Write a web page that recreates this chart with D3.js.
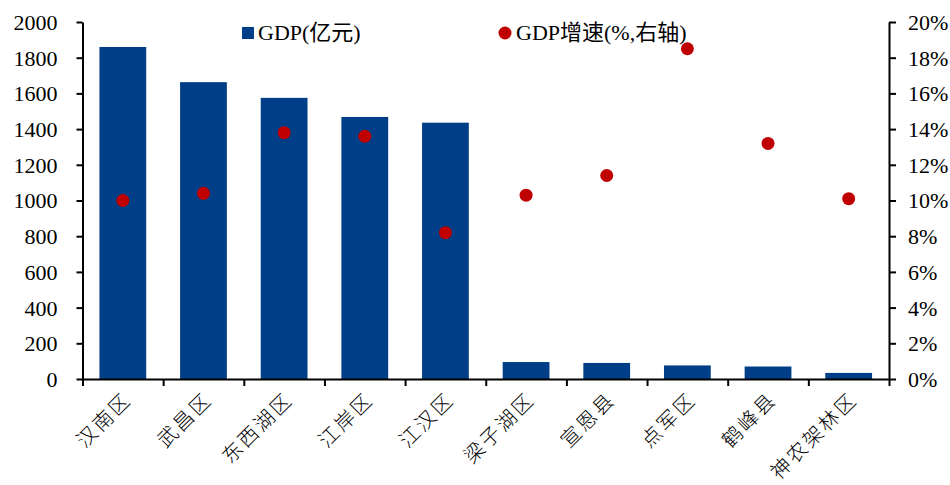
<!DOCTYPE html>
<html>
<head>
<meta charset="utf-8">
<script src="https://cdn.jsdelivr.net/npm/d3@7"></script>
<style>
  body { margin: 0; background: #fff; }
  text { font-family: "Liberation Serif", "Times New Roman", "Noto Sans CJK SC", serif; fill: #000; }
</style>
</head>
<body>
<svg id="chart" width="950" height="485"></svg>
<script>
const categories = ["汉南区", "武昌区", "东西湖区", "江岸区", "江汉区", "梁子湖区", "宣恩县", "点军区", "鹤峰县", "神农架林区"];
const gdp = [1860, 1663, 1575, 1468, 1436, 95, 90, 76, 70, 34];
const growth = [10.0, 10.4, 13.8, 13.6, 8.2, 10.3, 11.4, 18.5, 13.2, 10.1];
const leftTicks = [0, 200, 400, 600, 800, 1000, 1200, 1400, 1600, 1800, 2000];
const rightTicks = [0, 2, 4, 6, 8, 10, 12, 14, 16, 18, 20];
const legendLabels = ["GDP(亿元)", "GDP增速(%,右轴)"];

const svg = d3.select("#chart");
const m = { left: 82.5, right: 889, top: 22, bottom: 379 };

const x = d3.scaleBand().domain(categories).range([m.left, m.right]).paddingInner(0.42).paddingOuter(0.21);
const xEdge = d3.scaleLinear().domain([0, categories.length]).range([m.left, m.right]);
const yL = d3.scaleLinear().domain([0, 2000]).range([m.bottom, m.top]);
const yR = d3.scaleLinear().domain([0, 20]).range([m.bottom, m.top]);

// bars
svg.append("g").selectAll("rect").data(categories).join("rect")
  .attr("x", d => x(d))
  .attr("width", x.bandwidth())
  .attr("y", (d, i) => yL(gdp[i]))
  .attr("height", (d, i) => yL(0) - yL(gdp[i]))
  .attr("fill", "#003F87");

// dots
const xc = d => x(d) + x.bandwidth() / 2;
svg.append("g").selectAll("circle").data(categories).join("circle")
  .attr("cx", d => xc(d))
  .attr("cy", (d, i) => yR(growth[i]))
  .attr("r", 6.5)
  .attr("fill", "#C00000");

// left axis
const gL = svg.append("g").attr("transform", `translate(${m.left},0)`)
  .call(d3.axisLeft(yL).tickValues(leftTicks).tickSize(6).tickSizeOuter(0).tickPadding(19).tickFormat(d3.format("d")));
// right axis
const gR = svg.append("g").attr("transform", `translate(${m.right},0)`)
  .call(d3.axisRight(yR).tickValues(rightTicks).tickSize(7).tickSizeOuter(0).tickPadding(12).tickFormat(d => d + "%"));
// bottom axis
const gB = svg.append("g").attr("transform", `translate(0,${m.bottom})`)
  .call(d3.axisBottom(xEdge).tickValues(d3.range(categories.length + 1)).tickSize(7).tickSizeOuter(0).tickFormat(""));

[gL, gR, gB].forEach(g => {
  g.select(".domain").attr("stroke", "#000").attr("stroke-width", 2);
  g.selectAll(".tick line").attr("stroke", "#000").attr("stroke-width", 2);
  g.selectAll("text").attr("font-size", 22).attr("font-family", "Liberation Serif, serif").attr("fill", "#000");
});
gL.selectAll("text").attr("dy", "0.34em");
gR.selectAll("text").attr("dy", "0.34em");

// category labels
svg.append("g").selectAll("text").data(categories).join("text")
  .attr("transform", d => `translate(${xc(d) + 5},${m.bottom + 17}) rotate(-45)`)
  .attr("text-anchor", "end")
  .attr("dy", "0.35em")
  .attr("font-size", 20)
  .attr("letter-spacing", "2.5px")
  .attr("font-family", "Noto Sans CJK SC, sans-serif")
  .attr("font-weight", 300)
  .text(d => d);

// legend
const lg = svg.append("g").attr("font-size", 22);
lg.append("rect").attr("x", 242).attr("y", 27).attr("width", 12).attr("height", 12).attr("fill", "#003F87");
lg.append("text").attr("x", 258).attr("y", 40).text(legendLabels[0]);
lg.append("circle").attr("cx", 505).attr("cy", 33).attr("r", 6.5).attr("fill", "#C00000");
lg.append("text").attr("x", 516).attr("y", 40).text(legendLabels[1]);
</script>
</body>
</html>
